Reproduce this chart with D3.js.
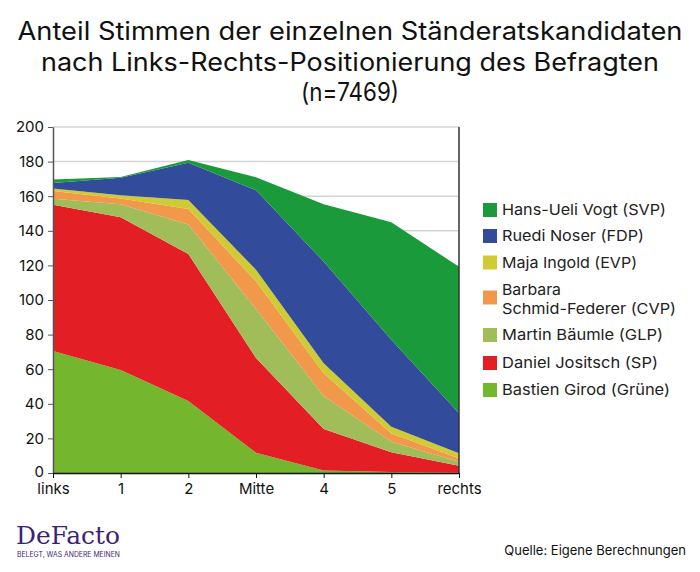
<!DOCTYPE html>
<html><head><meta charset="utf-8">
<script src="https://cdn.jsdelivr.net/npm/d3@7"></script>
<style>
body{margin:0;background:#fff;}
svg{display:block;font-family:Inter, Roboto, sans-serif;}
</style></head>
<body><svg id="c" width="700" height="572"></svg>
<script>
const categories = ["links","1","2","Mitte","4","5","rechts"];
const seriesNames = ["Bastien Girod (Grüne)","Daniel Jositsch (SP)","Martin Bäumle (GLP)","Barbara Schmid-Federer (CVP)","Maja Ingold (EVP)","Ruedi Noser (FDP)","Hans-Ueli Vogt (SVP)"];
const gruene = [70.5, 59.5, 41.6, 11.7, 1.4, 0.6, 0.2];
const sp     = [84.5, 88.3, 85.0, 54.8, 24.0, 11.4, 4.0];
const glp    = [3.5, 7.5, 17.1, 28.3, 19.1, 6.1, 2.3];
const cvp    = [4.5, 3.3, 8.9, 16.0, 13.1, 4.8, 2.0];
const evp    = [1.5, 1.9, 5.2, 6.7, 5.8, 3.9, 2.9];
const fdp    = [3.2, 10.2, 21.6, 46.0, 58.8, 50.2, 23.1];
const svp    = [1.9, 0.4, 1.5, 7.5, 33.1, 67.9, 84.7];
const yTicks = [0,20,40,60,80,100,120,140,160,180,200];
const colors = ["#74b62d","#e31e24","#a0bd5a","#f2984a","#cfcb34","#324b9a","#1a9a3a"];
const legendOrder = [6,5,4,3,2,1,0];

const svg = d3.select("#c");
const M = {l:53, r:459, t:127, b:473};
const x = d3.scalePoint().domain(categories).range([M.l, M.r]);
const y = d3.scaleLinear().domain([0,200]).range([M.b, M.t]);

// title
const title = ["Anteil Stimmen der einzelnen Ständeratskandidaten","nach Links-Rechts-Positionierung des Befragten","(n=7469)"];
const titleW = [665, 618, 98];
svg.append("g").selectAll("text").data(title).join("text")
  .attr("x",350).attr("y",(d,i)=>40+i*30.5)
  .attr("text-anchor","middle").attr("font-size",25).attr("fill","#111")
  .attr("textLength",(d,i)=>titleW[i]).attr("lengthAdjust","spacingAndGlyphs")
  .text(d=>d);

// gridlines
svg.append("g").selectAll("line").data(yTicks.filter(d=>d>0)).join("line")
  .attr("x1",M.l).attr("x2",M.r).attr("y1",d=>y(d)).attr("y2",d=>y(d))
  .attr("stroke","#d4d4d4").attr("stroke-width",1.5);

// stacked areas
const table = categories.map((c,i)=>{
  const o = {cat:c};
  [gruene,sp,glp,cvp,evp,fdp,svp].forEach((s,k)=>o[k]=s[i]);
  return o;
});
const stack = d3.stack().keys([0,1,2,3,4,5,6]);
const layers = stack(table);
const area = d3.area().x(d=>x(d.data.cat)).y0(d=>y(d[0])).y1(d=>y(d[1]));
svg.append("g").selectAll("path").data(layers).join("path")
  .attr("d",area).attr("fill",(d,i)=>colors[i]);

// right border
svg.append("line").attr("x1",M.r).attr("x2",M.r).attr("y1",M.t).attr("y2",M.b)
  .attr("stroke","#333").attr("stroke-width",1.5);

// axes
const yAxis = svg.append("g").attr("transform",`translate(${M.l},0)`)
  .call(d3.axisLeft(y).tickValues(yTicks).tickSize(5).tickSizeOuter(0));
yAxis.select(".domain").attr("stroke","#555").attr("stroke-width",1.5);
yAxis.selectAll(".tick line").attr("stroke","#555");
yAxis.selectAll("text").attr("font-size",15).attr("fill","#111").attr("font-family","Inter, Roboto, sans-serif").attr("dx",-1)
  .attr("dy",d=>d===0?"0.22em":"0.32em");

const xAxis = svg.append("g").attr("transform",`translate(0,${M.b})`)
  .call(d3.axisBottom(x).tickSize(5).tickSizeOuter(0));
xAxis.select(".domain").attr("stroke","#111").attr("stroke-width",1.5);
xAxis.selectAll(".tick line").attr("stroke","#111");
xAxis.selectAll("text").attr("font-size",15).attr("fill","#111").attr("font-family","Inter, Roboto, sans-serif").attr("dy","0.88em");

// legend
const legY = [210,236,262.5,297.5,335,363,390];
const legW = {6:164,5:142,4:135,2:161,1:156,0:168};
const lg = svg.append("g");
legendOrder.forEach((k,i)=>{
  lg.append("rect").attr("x",483).attr("y",legY[i]-7).attr("width",14).attr("height",14).attr("fill",colors[k]);
  const name = seriesNames[k];
  if(k===3){
    lg.append("text").attr("x",502).attr("y",legY[i]-8).attr("dy","0.35em").attr("font-size",15).attr("fill","#222")
      .attr("textLength",59).attr("lengthAdjust","spacingAndGlyphs").text("Barbara");
    lg.append("text").attr("x",502).attr("y",legY[i]+11).attr("dy","0.35em").attr("font-size",15).attr("fill","#222")
      .attr("textLength",174).attr("lengthAdjust","spacingAndGlyphs").text("Schmid-Federer (CVP)");
  } else {
    lg.append("text").attr("x",502).attr("y",legY[i]).attr("dy","0.35em").attr("font-size",15).attr("fill","#222")
      .attr("textLength",legW[k]).attr("lengthAdjust","spacingAndGlyphs").text(name);
  }
});

// footer
svg.append("text").attr("x",16).attr("y",544).attr("font-family","'DejaVu Serif', 'Liberation Serif', serif")
  .attr("font-size",25).attr("fill","#3f1f73").attr("textLength",104).attr("lengthAdjust","spacingAndGlyphs").text("DeFacto");
svg.append("text").attr("x",17).attr("y",557).attr("font-size",7).attr("fill","#3f1f73")
  .attr("textLength",103).attr("lengthAdjust","spacingAndGlyphs").text("BELEGT, WAS ANDERE MEINEN");
svg.append("text").attr("x",686).attr("y",555).attr("text-anchor","end").attr("font-size",13).attr("fill","#111")
  .text("Quelle: Eigene Berechnungen");
</script></body></html>
